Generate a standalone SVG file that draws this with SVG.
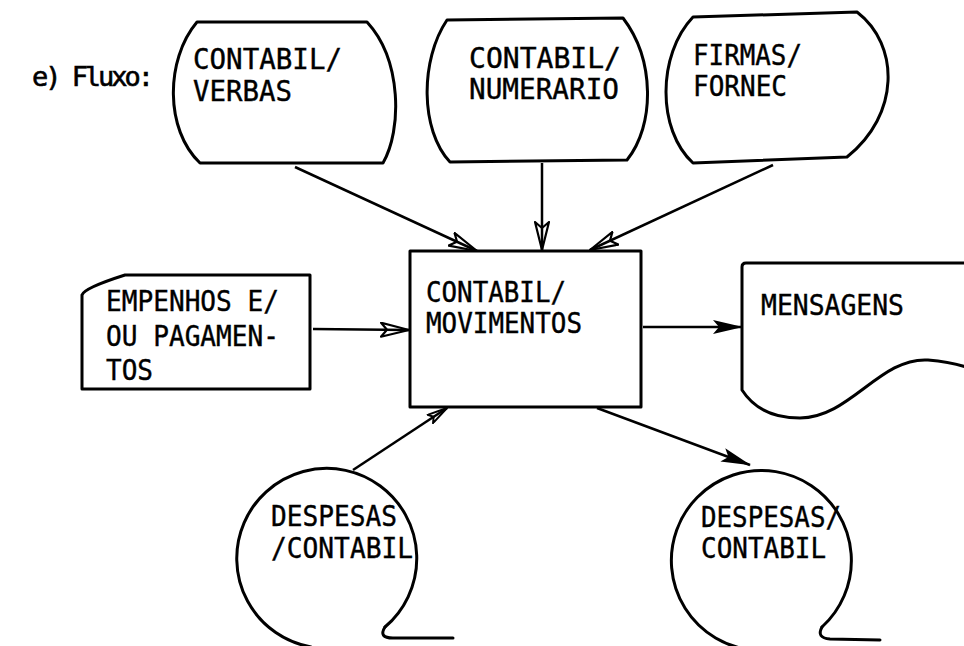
<svg xmlns="http://www.w3.org/2000/svg" width="964" height="646" viewBox="0 0 964 646">
<style>
.s{fill:#fff;stroke:#000;stroke-width:3;stroke-linejoin:round;stroke-linecap:round}
.n{fill:none;stroke:#000;stroke-width:3;stroke-linecap:round}
.c{fill:none;stroke:#000;stroke-width:2.5}
.t{font-family:"DejaVu Sans Mono","Liberation Mono",monospace;font-size:28px;fill:#000;stroke:#000;stroke-width:0.4}
.title{font-size:27px;stroke-width:0.6}
</style>
<defs>
<marker id="open" viewBox="0 0 30 16" refX="29" refY="8" markerWidth="30" markerHeight="16" markerUnits="userSpaceOnUse" orient="auto">
<path d="M1,1 L29,8 L1,15 L7,8 Z" fill="none" stroke="#000" stroke-width="2.2" stroke-linejoin="round"/>
</marker>
<marker id="openS" viewBox="0 0 22 12" refX="21" refY="6" markerWidth="22" markerHeight="12" markerUnits="userSpaceOnUse" orient="auto">
<path d="M1,1 L21,6 L1,11 L5,6 Z" fill="none" stroke="#000" stroke-width="2" stroke-linejoin="round"/>
</marker>
<marker id="fill" viewBox="0 0 30 16" refX="29" refY="8" markerWidth="30" markerHeight="16" markerUnits="userSpaceOnUse" orient="auto">
<path d="M0,1 L30,8 L0,15 L6,8 Z" fill="#000"/>
</marker>
</defs>
<rect width="964" height="646" fill="#fff"/>
<text class="t title" x="32" y="86" textLength="122" lengthAdjust="spacing">e) Fluxo:</text>

<g id="connectors">
<line class="c" x1="295" y1="167" x2="477" y2="251" marker-end="url(#open)"/>
<line class="c" x1="542" y1="163" x2="542" y2="250" marker-end="url(#open)"/>
<line class="c" x1="773" y1="165" x2="590" y2="250" marker-end="url(#open)"/>
<line class="c" x1="313" y1="329" x2="409" y2="330" marker-end="url(#open)"/>
<line class="c" x1="643" y1="327" x2="742" y2="327" marker-end="url(#fill)"/>
<line class="c" x1="353" y1="470" x2="447" y2="408" marker-end="url(#openS)"/>
<line class="c" x1="597" y1="408" x2="750" y2="465" marker-end="url(#fill)"/>
</g>

<g id="verbas">
<path class="s" d="M197,22 L367,22 C402,60 402,130 383,163 L200,163 C165,130 165,60 197,22 Z"/>
<text class="t" x="193" y="69" textLength="149" lengthAdjust="spacingAndGlyphs">CONTABIL/</text>
<text class="t" x="193" y="101" textLength="99" lengthAdjust="spacingAndGlyphs">VERBAS</text>
</g>
<g id="numerario">
<path class="s" d="M447,20 L623,18 C655,60 655,125 627,160 L450,162 C420,130 420,60 447,20 Z"/>
<text class="t" x="469" y="68" textLength="152" lengthAdjust="spacingAndGlyphs">CONTABIL/</text>
<text class="t" x="469" y="99" textLength="150" lengthAdjust="spacingAndGlyphs">NUMERARIO</text>
</g>
<g id="firmas">
<path class="s" d="M693,17 L857,12 C900,45 900,115 847,157 L693,163 C657,130 657,55 693,17 Z"/>
<text class="t" x="693" y="65" textLength="109" lengthAdjust="spacingAndGlyphs">FIRMAS/</text>
<text class="t" x="693" y="96" textLength="94" lengthAdjust="spacingAndGlyphs">FORNEC</text>
</g>
<g id="empenhos">
<path class="s" d="M125,275 L310,275 L310,389 L82,389 L82,295 Q84,288 125,275 Z"/>
<text class="t" x="106" y="311" textLength="173" lengthAdjust="spacingAndGlyphs">EMPENHOS E/</text>
<text class="t" x="106" y="346" textLength="173" lengthAdjust="spacingAndGlyphs">OU PAGAMEN-</text>
<text class="t" x="106" y="380" textLength="47" lengthAdjust="spacingAndGlyphs">TOS</text>
</g>
<g id="movimentos">
<rect class="s" x="410" y="251" width="231" height="156"/>
<text class="t" x="426" y="302" textLength="140" lengthAdjust="spacingAndGlyphs">CONTABIL/</text>
<text class="t" x="426" y="333" textLength="156" lengthAdjust="spacingAndGlyphs">MOVIMENTOS</text>
</g>
<g id="mensagens">
<path class="s" d="M966,263 L746,263 Q742,263 742,267 L742,390 Q760,418 800,418 C850,418 880,357 928,360 Q950,362 966,367"/>
<text class="t" x="761" y="315" textLength="143" lengthAdjust="spacingAndGlyphs">MENSAGENS</text>
</g>
<g id="despesas1">
<path class="n" d="M385,627 A90,90 0 1 0 311,647"/>
<path class="n" d="M385,627 Q378,638 393,638 L453,638"/>
<text class="t" x="271" y="526" textLength="126" lengthAdjust="spacingAndGlyphs">DESPESAS</text>
<text class="t" x="271" y="558" textLength="142" lengthAdjust="spacingAndGlyphs">/CONTABIL</text>
</g>
<g id="despesas2">
<path class="n" d="M822,627 A90,90 0 1 0 752,650"/>
<path class="n" d="M822,627 Q816,638 830,639 L880,640"/>
<text class="t" x="701" y="527" textLength="140" lengthAdjust="spacingAndGlyphs">DESPESAS/</text>
<text class="t" x="701" y="558" textLength="125" lengthAdjust="spacingAndGlyphs">CONTABIL</text>
</g>
</svg>
